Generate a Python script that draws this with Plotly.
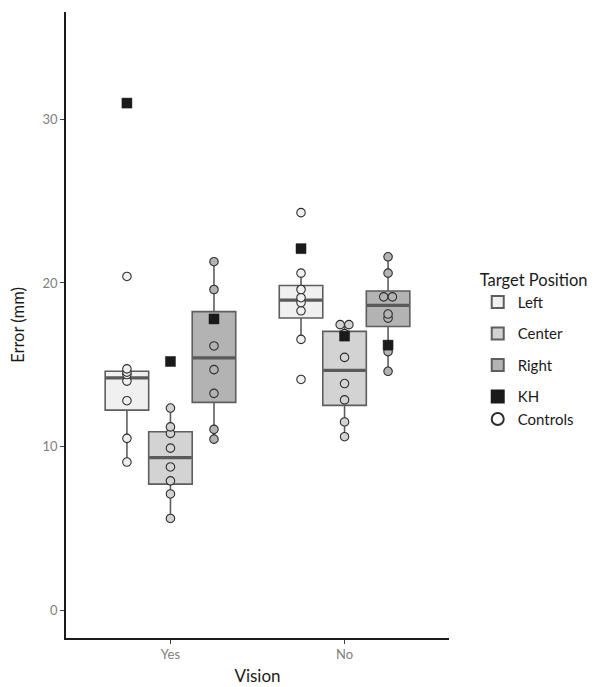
import numpy as np
import plotly.graph_objects as go

vision = ["Yes", "No"]
positions = ["Left", "Center", "Right"]

# Control participants' errors (mm), 8 per cell
ctrl_yes_left = [9.05, 10.5, 12.8, 14.0, 14.4, 14.55, 14.75, 20.4]
ctrl_yes_center = [5.6, 7.1, 7.9, 8.75, 9.9, 10.8, 11.2, 12.35]
ctrl_yes_right = [10.45, 11.05, 13.25, 14.7, 16.15, 17.8, 19.6, 21.3]
ctrl_no_left = [14.1, 16.55, 18.3, 18.8, 19.1, 19.6, 20.6, 24.3]
ctrl_no_center = [10.6, 11.5, 12.85, 13.85, 15.45, 16.9, 17.45, 17.45]
ctrl_no_right = [14.6, 15.8, 17.85, 18.1, 19.15, 19.15, 20.6, 21.6]

# Patient KH (Yes, No)
kh_left = [31.0, 22.1]
kh_center = [15.2, 16.75]
kh_right = [17.8, 16.2]

controls = {
    "Left": [ctrl_yes_left, ctrl_no_left],
    "Center": [ctrl_yes_center, ctrl_no_center],
    "Right": [ctrl_yes_right, ctrl_no_right],
}
kh = {"Left": kh_left, "Center": kh_center, "Right": kh_right}

fills = {"Left": "#f0f0f0", "Center": "#d3d3d3", "Right": "#b3b3b3"}
offsets = {"Left": -0.25, "Center": 0.0, "Right": 0.25}
BOX_W = 0.25
FONT = "Lato"

fig = go.Figure()

# Boxes
for pos in positions:
    xs, q1s, meds, q3s, lfs, ufs = [], [], [], [], [], []
    for gi, vals in enumerate(controls[pos]):
        a = np.array(vals)
        q1, med, q3 = np.percentile(a, [25, 50, 75])
        iqr = q3 - q1
        lf = a[a >= q1 - 1.5 * iqr].min()
        uf = a[a <= q3 + 1.5 * iqr].max()
        xs.append(gi + 1 + offsets[pos])
        q1s.append(q1); meds.append(med); q3s.append(q3); lfs.append(lf); ufs.append(uf)
    fig.add_trace(go.Box(
        x=xs, q1=q1s, median=meds, q3=q3s, lowerfence=lfs, upperfence=ufs,
        width=BOX_W, whiskerwidth=0, boxpoints=False,
        fillcolor=fills[pos], line=dict(color="#5e5e5e", width=1.6),
        name=pos, legendgroup="tp_" + pos, legendrank=positions.index(pos) + 1,
        hoverinfo="skip",
    ))
    # thicker median lines
    mx, my = [], []
    for x, m in zip(xs, meds):
        mx += [x - BOX_W / 2 + 0.004, x + BOX_W / 2 - 0.004, None]
        my += [m, m, None]
    fig.add_trace(go.Scatter(x=mx, y=my, mode="lines",
                             line=dict(color="#5a5a5a", width=3.2),
                             showlegend=False, hoverinfo="skip"))

# Control points (identical values spread horizontally)
for pos in positions:
    px, py = [], []
    for gi, vals in enumerate(controls[pos]):
        center = gi + 1 + offsets[pos]
        counts = {}
        for v in vals:
            counts[round(v, 2)] = counts.get(round(v, 2), 0) + 1
        seen = {}
        for v in vals:
            k = round(v, 2)
            n = counts[k]
            i = seen.get(k, 0)
            seen[k] = i + 1
            dx = (i - (n - 1) / 2) * 0.05
            px.append(center + dx)
            py.append(v)
    fig.add_trace(go.Scatter(
        x=px, y=py, mode="markers",
        marker=dict(symbol="circle", size=8.5, color=fills[pos],
                    line=dict(color="#2e2e2e", width=1.1)),
        showlegend=False, hoverinfo="y",
    ))

# KH squares
kx, ky = [], []
for pos in positions:
    for gi, v in enumerate(kh[pos]):
        kx.append(gi + 1 + offsets[pos])
        ky.append(v)
fig.add_trace(go.Scatter(
    x=kx, y=ky, mode="markers", name="KH",
    marker=dict(symbol="square", size=10, color="#1a1a1a",
                line=dict(color="#1a1a1a", width=0.5)),
    legendgroup="pts", legendrank=10,
))
fig.add_trace(go.Scatter(
    x=[None], y=[None], mode="markers", name="Controls",
    marker=dict(symbol="circle", size=8, color="white",
                line=dict(color="#2e2e2e", width=1.1)),
    legendgroup="pts", legendrank=11,
))

axis_common = dict(
    showline=True, linecolor="#1a1a1a", linewidth=1.6, mirror=False,
    showgrid=False, zeroline=False, ticks="outside", ticklen=4,
    tickcolor="#444444", tickwidth=1, automargin=False,
    tickfont=dict(family=FONT, size=13, color="#808080"),
)

# page body has an 8px default margin, so the figure is 8px smaller
fig.update_layout(
    width=594, height=679,
    margin=dict(l=58, r=153, t=4, b=49),
    plot_bgcolor="white", paper_bgcolor="white",
    font=dict(family=FONT, color="#1a1a1a"),
    xaxis=dict(range=[0.4, 2.6], tickvals=[1, 2], ticktext=vision,
               title=dict(text="Vision", font=dict(family=FONT, size=17, color="#1a1a1a"), standoff=9),
               **axis_common),
    yaxis=dict(range=[-1.71, 36.57], tickvals=[0, 10, 20, 30],
               title=dict(text="Error (mm)", font=dict(family=FONT, size=16.5, color="#1a1a1a"), standoff=15),
               **axis_common),
    legend=dict(
        title=dict(text="Target Position", font=dict(family=FONT, size=16.5, color="#1a1a1a")),
        font=dict(family=FONT, size=15, color="#1a1a1a"),
        x=1.075, xanchor="left", y=0.597, yanchor="top",
        tracegroupgap=9, itemsizing="constant", bgcolor="rgba(0,0,0,0)",
    ),
    boxmode="overlay",
    showlegend=True,
)

fig.write_html("out.html")
